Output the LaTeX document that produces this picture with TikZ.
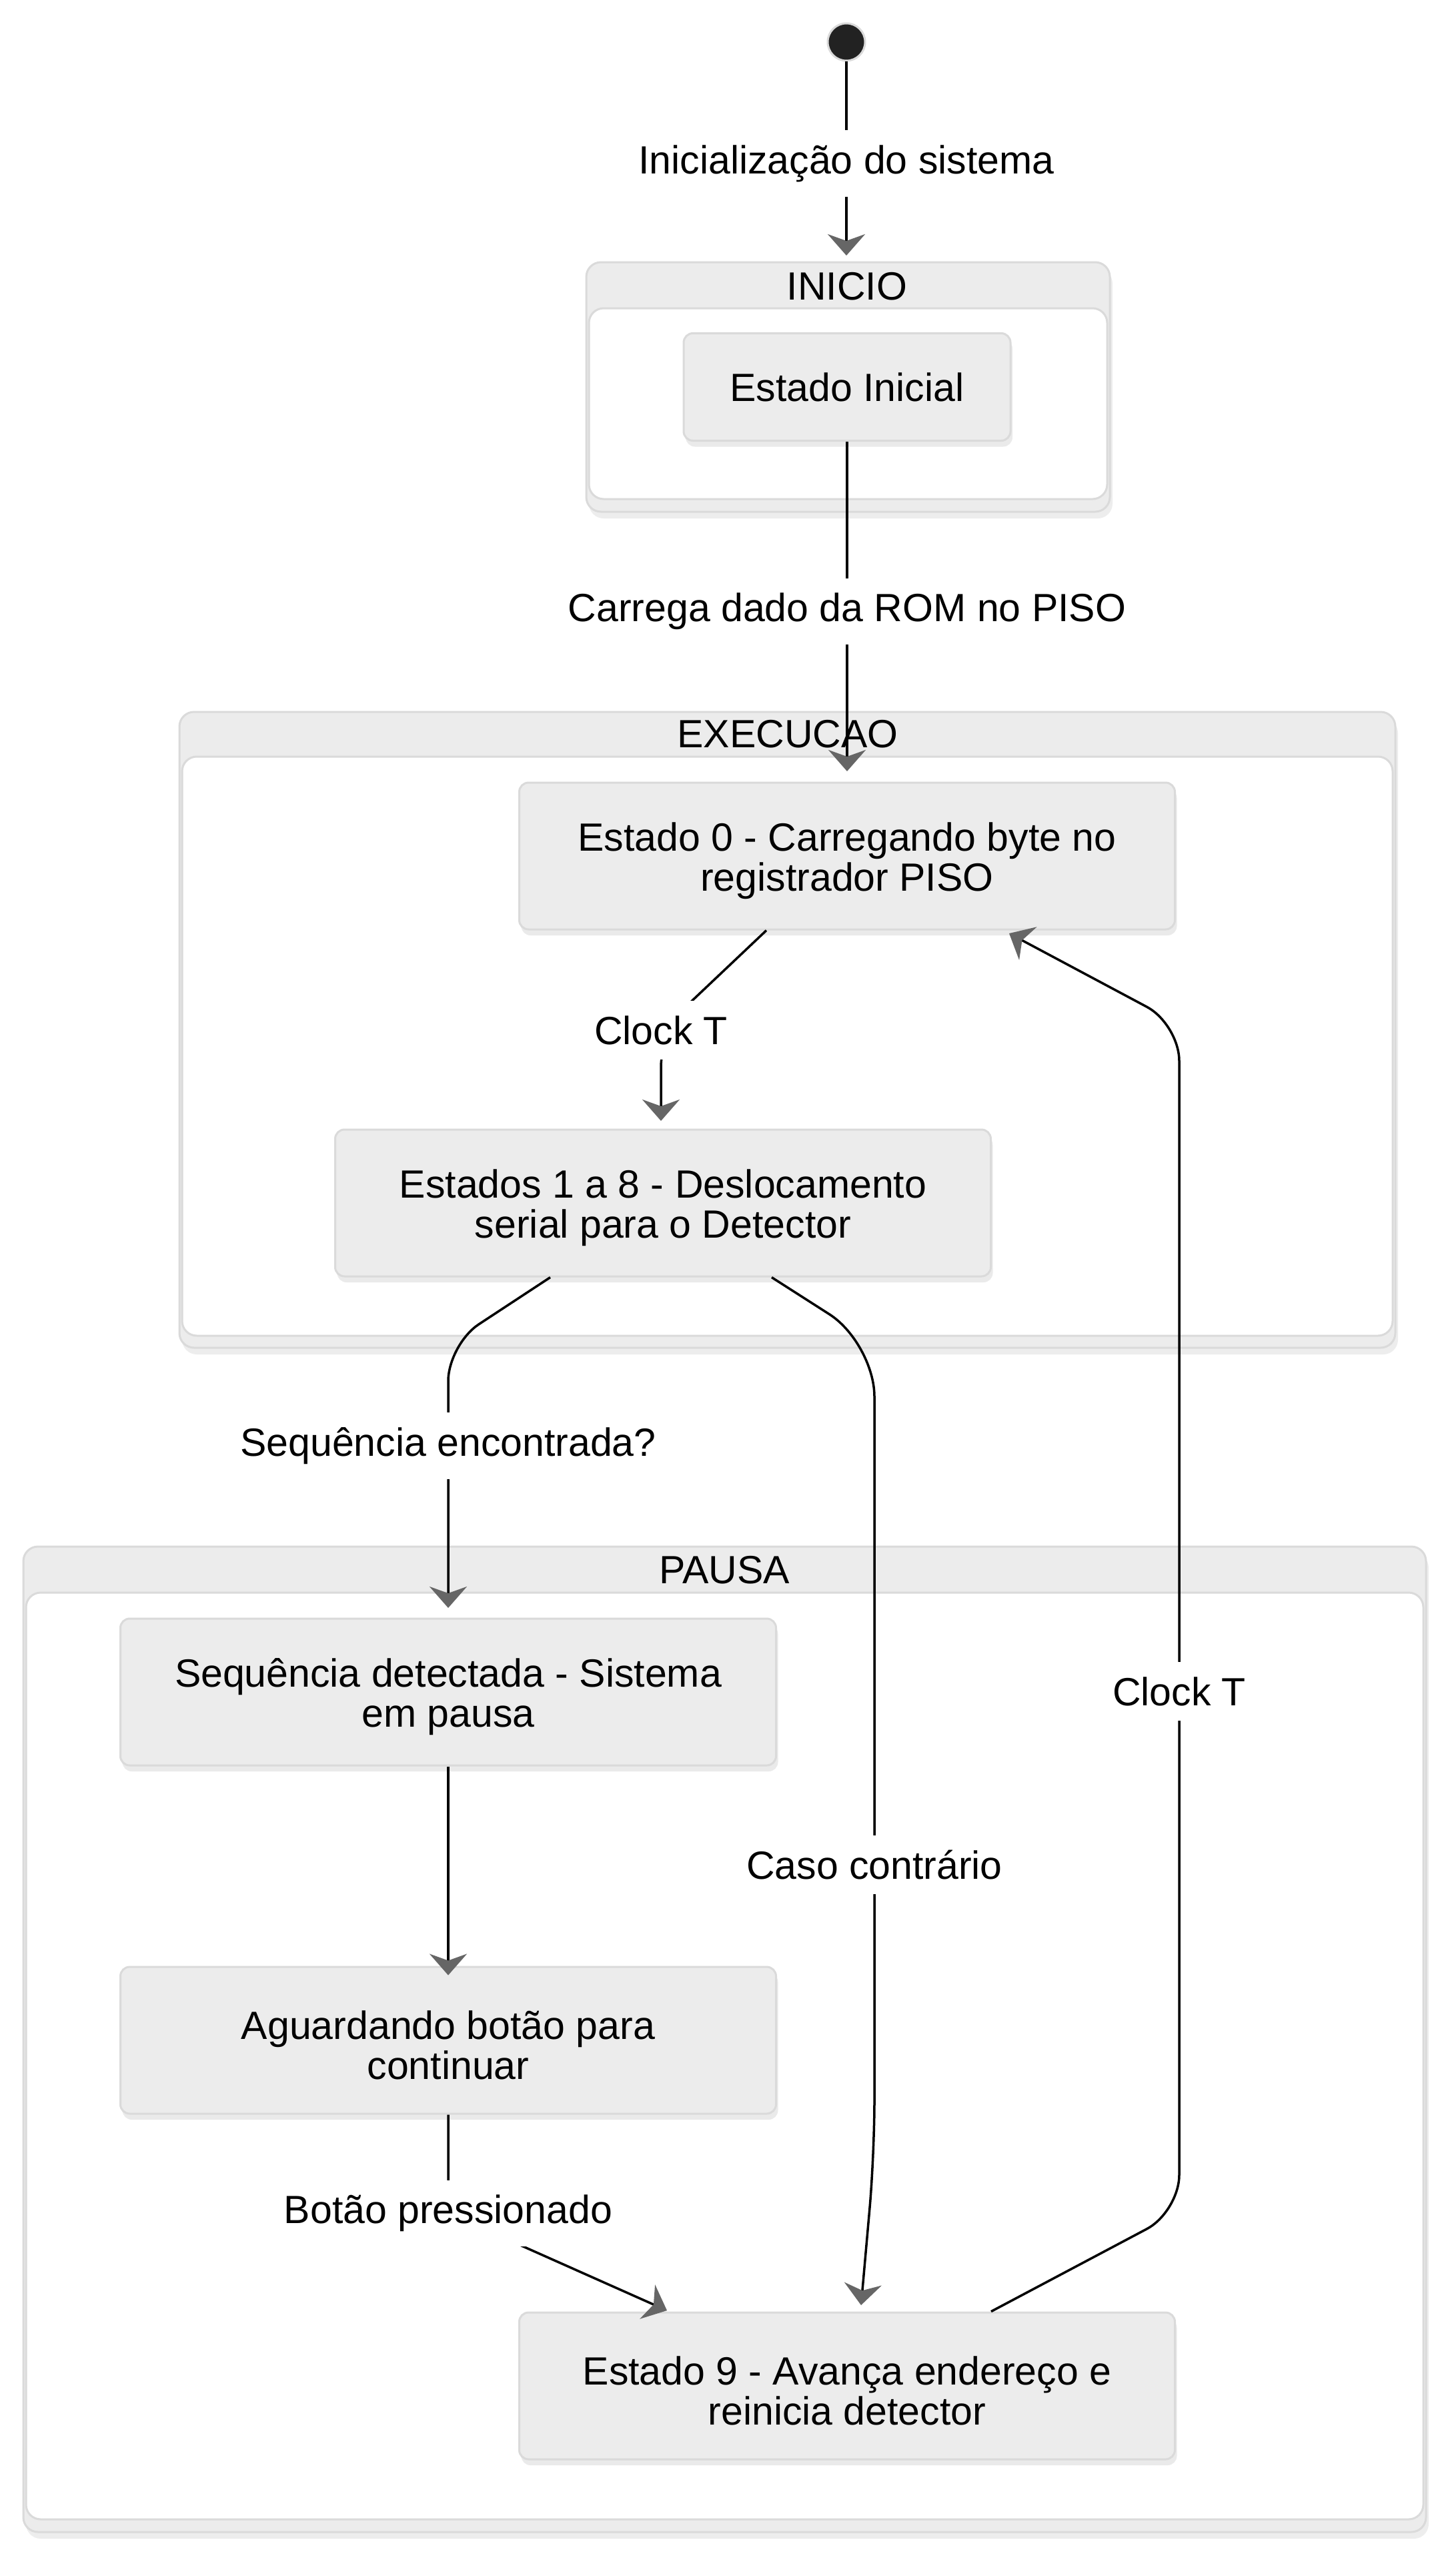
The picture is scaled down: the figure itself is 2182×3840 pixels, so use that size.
\documentclass[tikz,border=0pt]{standalone}
\usepackage{fontspec}
\setmainfont{Liberation Sans}
\usetikzlibrary{arrows.meta,shadows}
\definecolor{boxfill}{HTML}{ECECEC}
\definecolor{boxline}{HTML}{DADADA}
\definecolor{tipgray}{HTML}{666666}
\definecolor{dotfill}{HTML}{222222}
\newcommand{\myfirstline}{\rule{0pt}{57pt}}
\begin{document}
\begin{tikzpicture}[x=1pt,y=-1pt,
  every node/.style={font=\fontsize{59}{60}\selectfont},
  statebox/.style={rectangle, rounded corners=14pt, fill=boxfill, draw=boxline, line width=3pt,
    align=center, minimum width=983pt, minimum height=220pt, inner sep=0pt,
    drop shadow={opacity=0.16, shadow xshift=3pt, shadow yshift=-9pt}},
  clusterouter/.style={fill=boxfill, draw=boxline, line width=3pt, rounded corners=22pt,
    drop shadow={opacity=0.14, shadow xshift=4pt, shadow yshift=-10pt}},
  clusterinner/.style={fill=white, draw=boxline, line width=3pt, rounded corners=22pt},
  ctitle/.style={inner sep=0pt},
  edge/.style={draw=black, line width=3.5pt, rounded corners=55pt,
    -{Stealth[length=32pt, width=56pt, inset=10pt, color=tipgray]}},
  lbl/.style={fill=white, inner xsep=8pt, inner ysep=22pt}
]
\useasboundingbox (0,0) rectangle (2182,3840);
\fill[white] (0,0) rectangle (2182,3840);

% ---- clusters ----
\path[clusterouter] (879,393) rectangle (1664,767);
\path[clusterinner] (883,462) rectangle (1660,748);
\node[ctitle] (tInicio) at (1270,429) {INICIO};

\path[clusterouter] (269,1067) rectangle (2092,2020);
\path[clusterinner] (273,1134) rectangle (2088,2002);
\node[ctitle] (tExec) at (1181,1100) {EXECUCAO};

\path[clusterouter] (35,2318) rectangle (2138,3795);
\path[clusterinner] (39,2387) rectangle (2134,3776);
\node[ctitle] (tPausa) at (1086,2353) {PAUSA};

% ---- start ----
\node[circle, fill=dotfill, draw=boxline, line width=3pt, minimum size=56pt, inner sep=0pt] (start) at (1269,63) {};

% ---- states ----
\node[statebox, minimum width=490pt, minimum height=161pt] (ini) at (1270,580) {Estado Inicial};
\node[statebox] (e0) at (1270,1283) {\myfirstline Estado 0 - Carregando byte no\\registrador PISO};
\node[statebox] (e18) at (994,1803) {\myfirstline Estados 1 a 8 - Deslocamento\\serial para o Detector};
\node[statebox] (seq) at (672,2536) {\myfirstline Sequência detectada - Sistema\\em pausa};
\node[statebox] (agu) at (672,3058) {\myfirstline Aguardando botão para\\continuar};
\node[statebox] (e9) at (1270,3576) {\myfirstline Estado 9 - Avança endereço e\\reinicia detector};

% ---- coordinates ----
\coordinate (inicioTop) at (1269,383);
\coordinate (execTop) at (1270,1156);
\coordinate (c3a) at ([xshift=-121pt]e0.south);
\coordinate (c3b) at (991,1544);
\coordinate (c3c) at (991,1680);
\coordinate (c4a) at ([xshift=-169pt]e18.south);
\coordinate (c4b) at (672,2015);
\coordinate (c4c) at (672,2410);
\coordinate (c5a) at ([xshift=163pt]e18.south);
\coordinate (c5b) at (1311,2013);
\coordinate (c5c) at (1311,3230);
\coordinate (c5d) at (1291,3455);
\coordinate (c7b) at (672,3317);
\coordinate (c7c) at (1000,3463);
\coordinate (c8a) at ([xshift=216pt]e9.north);
\coordinate (c8b) at (1768,3315);
\coordinate (c8c) at (1768,1535);
\coordinate (c8d) at (1513,1399);

% ---- edges ----
\draw[edge] (start) -- (inicioTop);
\draw[edge] (ini.south) -- (execTop);
\draw[edge] (c3a) -- (c3b) -- (c3c);
\draw[edge] (c4a) -- (c4b) -- (c4c);
\draw[edge, rounded corners=80pt] (c5a) -- (c5b) -- (c5c) -- (c5d);
\draw[edge] (seq.south) -- ([yshift=-14pt]agu.north);
\draw[edge, rounded corners=0pt] (agu.south) -- (c7b) -- (c7c);
\draw[edge] (c8a) -- (c8b) -- (c8c) -- (c8d);

% ---- edge labels ----
\node[lbl] (l1) at (1269,245) {Inicialização do sistema};
\node[lbl] (l2) at (1270,916) {Carrega dado da ROM no PISO};
\node[lbl] (l3) at (991,1544) {Clock T};
\node[lbl] (l4) at (672,2167) {Sequência encontrada?};
\node[lbl] (l5) at (1311,2795) {Caso contrário};
\node[lbl] (l7) at (672,3317) {Botão pressionado};
\node[lbl] (l8) at (1768,2535) {Clock T};
\end{tikzpicture}
\end{document}
